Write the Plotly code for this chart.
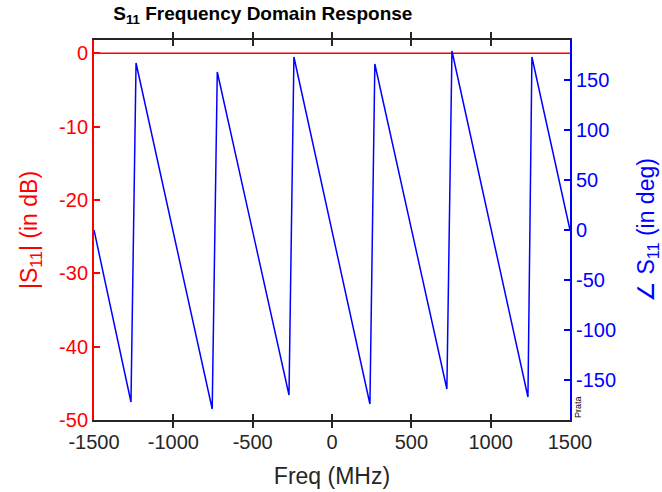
import plotly.graph_objects as go

# Magnitude |S11| (dB)
mag_freq = [-1500, 1500]
mag_db = [0, 0]

# Phase of S11 (deg), sawtooth vertices
phase_freq = [-1500, -1267, -1235, -755, -723, -271, -240, 239, 270, 724, 756, 1235, 1260, 1500]
phase_deg = [0, -172, 167, -179, 158, -165, 173, -174, 166, -159, 179, -167, 173, 0]

x_ticks = [-1500, -1000, -500, 0, 500, 1000, 1500]
left_ticks = [-50, -40, -30, -20, -10, 0]
right_ticks = [-150, -100, -50, 0, 50, 100, 150]

FONT = "Liberation Sans, Arial, Helvetica, sans-serif"
RED = "#ff0000"
BLUE = "#0000ff"
GRAY = "#262626"

fig = go.Figure()
fig.add_trace(go.Scatter(x=mag_freq, y=mag_db, mode="lines",
                         line=dict(color=RED, width=1.5), yaxis="y", showlegend=False))
fig.add_trace(go.Scatter(x=phase_freq, y=phase_deg, mode="lines",
                         line=dict(color=BLUE, width=1.5), yaxis="y2", showlegend=False))

fig.update_layout(
    width=662, height=492,
    margin=dict(l=94, r=92, t=40, b=72, autoexpand=False),
    paper_bgcolor="white", plot_bgcolor="white",
    font=dict(family=FONT, size=20, color=GRAY),
    title=dict(text="<b>S<sub>11</sub> Frequency Domain Response</b>",
               xref="container", x=0.397, xanchor="center",
               yref="container", y=0.972, yanchor="middle", automargin=False,
               font=dict(family=FONT, size=19, color="#000000")),
    xaxis=dict(range=[-1500, 1500], tickvals=x_ticks, ticktext=[str(v) for v in x_ticks],
               showline=True, linecolor=GRAY, linewidth=1.5, mirror="allticks",
               ticks="inside", ticklen=6, tickwidth=1.5, tickcolor=GRAY,
               showgrid=False, zeroline=False, automargin=False,
               ticklabelstandoff=3,
               tickfont=dict(size=20, color=GRAY),
               title=dict(text="Freq (MHz)", font=dict(size=23, color=GRAY), standoff=16)),
    yaxis=dict(range=[-50, 1.8], tickvals=left_ticks, ticktext=[str(v) for v in left_ticks],
               showline=True, linecolor=RED, linewidth=2, mirror=False,
               ticks="inside", ticklen=6, tickwidth=1.5, tickcolor=RED,
               showgrid=False, zeroline=False, automargin=False,
               tickfont=dict(size=20, color=RED),
               title=dict(text="|S<sub>11</sub>| (in dB)", font=dict(size=23, color=RED), standoff=15)),
    yaxis2=dict(range=[-190, 190], tickvals=right_ticks, ticktext=[str(v) for v in right_ticks],
                overlaying="y", side="right", anchor="x",
                showline=True, linecolor=BLUE, linewidth=2,
                ticks="inside", ticklen=6, tickwidth=1.5, tickcolor=BLUE,
                showgrid=False, zeroline=False, automargin=False,
                tickfont=dict(size=20, color=BLUE),
                title=dict(text="∠ S<sub>11</sub> (in deg)", font=dict(size=23, color=BLUE), standoff=30)),
    annotations=[dict(text="Prata", x=1.0, y=0.0, xref="paper", yref="paper",
                      xanchor="left", yanchor="bottom", xshift=1, textangle=-90,
                      showarrow=False, font=dict(family=FONT, size=9, color="#000000"))],
)

fig.write_html("out.html", config={"displayModeBar": False},
               post_script="document.body.style.margin='0';document.documentElement.style.overflow='hidden';")
